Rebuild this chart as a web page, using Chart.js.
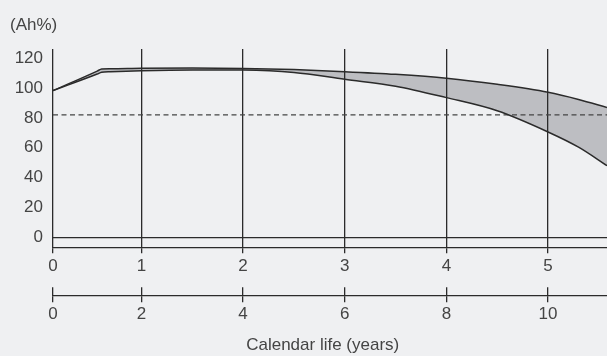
<!DOCTYPE html>
<html>
<head>
<meta charset="utf-8">
<title>Capacity vs. cycle and calendar life</title>
<script src="https://cdn.jsdelivr.net/npm/chart.js@4.4.0/dist/chart.umd.min.js"></script>
<style>
  html, body { margin: 0; padding: 0; background: #eff0f2; }
  #wrap { position: relative; width: 607px; height: 356px; overflow: hidden; }
  #wrap canvas { position: absolute; left: 0; }
  #capacity { top: 0; }
  #calendar { top: 280px; }
</style>
</head>
<body>
<div id="wrap">
  <canvas id="capacity" width="607" height="285"></canvas>
  <canvas id="calendar" width="607" height="76"></canvas>
</div>
<script>
// axis ticks
const cycleTicks = [0, 1, 2, 3, 4, 5];
const yearTicks = [0, 2, 4, 6, 8, 10];
const capacityTicks = [0, 20, 40, 60, 80, 100, 120];

// capacity band (Ah%), upper and lower edge, sampled along the cycle axis
const cyclePoints   = [0,    0.5,   0.55,  0.65,  1,     1.5,   2,     2.5,   3,     3.5,   4,     4.5,  5,    5.3,  5.58];
const upperCapacity = [98.3, 111.4, 112.8, 112.95, 113.3, 113.5, 113.2, 112.4, 111.0, 109.2, 106.6, 102.5, 97.2, 92.4, 87.0];
const lowerCapacity = [98.3, 109.4, 110.6, 111.0, 111.7, 112.2, 112.1, 110.5, 105.9, 101.3, 93.6,  84.8, 70.6, 60.4, 48.0];

const thresholdLevel = 82;

const ink = '#2b2b2b';
const textColor = '#444';
const bandFill = '#bdbec2';

Chart.defaults.font.family = '"Liberation Sans", Arial, sans-serif';
Chart.defaults.font.size = 17;
Chart.defaults.color = textColor;

// Linear scale whose first interval (up to splitAt) is drawn narrower than the rest
class SplitLinearScale extends Chart.LinearScale {
    static id = 'splitLinear';
    static defaults = {};

    bend(v) {
        const at = this.options.splitAt, ratio = this.options.splitRatio;
        return v <= at ? v * ratio : at * ratio + (v - at);
    }

    unbend(u) {
        const at = this.options.splitAt, ratio = this.options.splitRatio;
        return u <= at * ratio ? u / ratio : at + (u - at * ratio);
    }

    getPixelForValue(value) {
        if (value === null || value === undefined) return NaN;
        const a = this.bend(this.min), b = this.bend(this.max);
        return this.getPixelForDecimal((this.bend(value) - a) / (b - a));
    }

    getValueForPixel(pixel) {
        const a = this.bend(this.min), b = this.bend(this.max);
        return this.unbend(a + this.getDecimalForPixel(pixel) * (b - a));
    }
}
Chart.register(SplitLinearScale);

const toPoints = (xs, ys) => xs.map((x, i) => ({ x: x, y: ys[i] }));
const fixedTicks = list => scale => { scale.ticks = list.map(v => ({ value: v })); };

const cycleMax = cyclePoints[cyclePoints.length - 1];

new Chart(document.getElementById('capacity'), {
    type: 'line',
    data: {
        datasets: [
            {
                data: toPoints(cyclePoints, upperCapacity),
                borderColor: ink,
                borderWidth: 1.5,
                pointRadius: 0,
                cubicInterpolationMode: 'monotone',
                fill: '+1',
                backgroundColor: bandFill
            },
            {
                data: toPoints(cyclePoints, lowerCapacity),
                borderColor: ink,
                borderWidth: 1.5,
                pointRadius: 0,
                cubicInterpolationMode: 'monotone',
                fill: false
            },
            {
                data: [{ x: 0, y: thresholdLevel }, { x: cycleMax, y: thresholdLevel }],
                borderColor: '#444',
                borderWidth: 1.3,
                borderDash: [5, 3.5],
                pointRadius: 0,
                fill: false
            }
        ]
    },
    options: {
        responsive: false,
        animation: false,
        layout: { padding: { left: 10, top: 0, right: 0, bottom: 0 } },
        plugins: {
            legend: { display: false },
            tooltip: { enabled: false },
            filler: { drawTime: 'beforeDraw' },
            title: {
                display: true,
                text: '(Ah%)',
                align: 'start',
                color: textColor,
                font: { size: 17, weight: 'normal' },
                padding: { top: 14.8, bottom: 13.8 }
            }
        },
        scales: {
            x: {
                type: 'splitLinear',
                min: 0,
                max: cycleMax,
                splitAt: 1,
                splitRatio: 0.87,
                afterBuildTicks: fixedTicks(cycleTicks),
                afterFit: s => { s.height = 37.7; },
                grid: { color: ink, lineWidth: 1.3, tickLength: 6, tickColor: ink },
                border: { display: true, color: ink, width: 1.3 },
                ticks: { padding: 3, maxRotation: 0, autoSkip: false }
            },
            y: {
                min: -6.7,
                max: 126.2,
                afterBuildTicks: fixedTicks(capacityTicks),
                afterFit: s => { s.width = 43; },
                grid: {
                    color: ctx => (ctx.tick && ctx.tick.value === 0 ? ink : 'rgba(0,0,0,0)'),
                    lineWidth: 1.3,
                    drawTicks: false
                },
                border: { display: false },
                ticks: { padding: 10 }
            }
        }
    }
});

// second x axis: calendar life in years
new Chart(document.getElementById('calendar'), {
    type: 'line',
    data: { datasets: [] },
    options: {
        responsive: false,
        animation: false,
        layout: { padding: { left: 38.4, top: 7.3, right: 0, bottom: 0 } },
        plugins: {
            legend: { display: false },
            tooltip: { enabled: false },
            title: {
                display: true,
                position: 'bottom',
                text: 'Calendar life (years)',
                align: 'center',
                color: textColor,
                font: { size: 17, weight: 'normal' },
                padding: 0
            }
        },
        scales: {
            x: {
                type: 'splitLinear',
                min: 0,
                max: cycleMax * 2,
                splitAt: 2,
                splitRatio: 0.87,
                afterBuildTicks: fixedTicks(yearTicks),
                afterFit: s => { s.height = 39.9; },
                grid: { color: ink, lineWidth: 1.3, tickLength: 6.6, tickColor: ink },
                border: { display: true, color: ink, width: 1.3 },
                ticks: { padding: 1.7, maxRotation: 0, autoSkip: false }
            },
            y: {
                min: 0,
                max: 1,
                afterFit: s => { s.width = 14.6; },
                ticks: { display: false },
                grid: { display: false },
                border: { display: false }
            }
        }
    }
});
</script>
</body>
</html>
